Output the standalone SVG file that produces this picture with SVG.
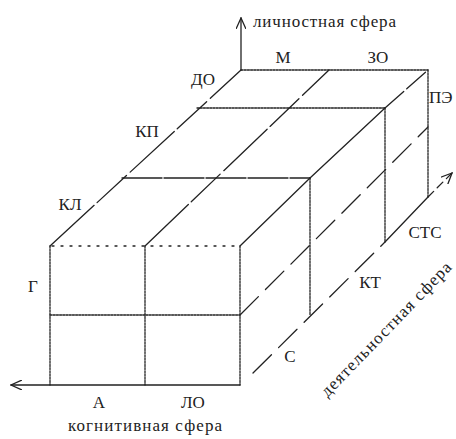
<svg xmlns="http://www.w3.org/2000/svg" width="456" height="439" viewBox="0 0 456 439">
<style>
.ln{fill:none;stroke:#222;stroke-width:1.3;stroke-linecap:round}
.dot{stroke-dasharray:2 1.2}
.sp{stroke-dasharray:2 7}
.dash{stroke-dasharray:26 10}
.gap{stroke-dasharray:60 4 40 5}
.m{text-anchor:middle}
</style>
<defs>
<marker id="ah" viewBox="0 0 12 10" refX="11" refY="5" markerWidth="12" markerHeight="10" markerUnits="userSpaceOnUse" orient="auto">
<path d="M0,0 L11,5 L0,10" fill="none" stroke="#222" stroke-width="1.3"/>
</marker>
</defs>
<rect width="456" height="439" fill="#fff"/>
<g id="connectors">
<line id="axis-personal" class="ln" x1="241" y1="70" x2="241" y2="18" marker-end="url(#ah)"/>
<line id="axis-cognitive" class="ln" x1="240" y1="385" x2="11" y2="385" marker-end="url(#ah)"/>
<line id="axis-activity-a" class="ln dash" x1="253" y1="373" x2="385" y2="242"/>
<line id="axis-activity-b" class="ln" x1="385" y1="242" x2="428" y2="197"/>
<line id="axis-activity-c" class="ln" stroke-dasharray="8 5" x1="428" y1="197" x2="452" y2="173" marker-end="url(#ah)"/>
<line class="ln dot" x1="50" y1="246" x2="50" y2="385"/>
<line class="ln dot" x1="145" y1="246" x2="145" y2="385"/>
<line class="ln dot" x1="240" y1="246" x2="240" y2="385"/>
<line class="ln sp" x1="52" y1="246" x2="240" y2="246"/>
<line class="ln dot" x1="50" y1="315" x2="240" y2="315"/>
<line class="ln dot" x1="241" y1="70" x2="428" y2="70"/>
<line class="ln dot" x1="197" y1="108" x2="385" y2="108"/>
<line class="ln" stroke-dasharray="40 2" x1="122" y1="178" x2="310" y2="178"/>
<line class="ln gap" x1="50" y1="246" x2="241" y2="70"/>
<line class="ln gap" x1="145" y1="246" x2="329" y2="70"/>
<line class="ln" x1="240" y1="246" x2="310" y2="178"/>
<line class="ln" x1="310" y1="178" x2="385" y2="108"/>
<line class="ln" stroke-dasharray="25 4" x1="385" y1="108" x2="428" y2="70"/>
<line class="ln dash" x1="240" y1="315" x2="428" y2="127"/>
<line class="ln dot" x1="310" y1="178" x2="310" y2="315"/>
<line class="ln dot" x1="385" y1="108" x2="385" y2="242"/>
<line class="ln dot" x1="428" y1="70" x2="428" y2="197"/>
</g>
<g id="labels" font-family="Liberation Serif, DejaVu Serif, serif" font-size="17" fill="#222">
<text x="253" y="27" textLength="143">личностная сфера</text>
<text class="m" x="283" y="63">М</text>
<text class="m" x="378" y="63">ЗО</text>
<text class="m" x="203" y="85">ДО</text>
<text x="429" y="103">ПЭ</text>
<text class="m" x="147" y="137">КП</text>
<text class="m" x="70" y="210">КЛ</text>
<text class="m" x="33" y="292">Г</text>
<text class="m" x="99" y="408">А</text>
<text class="m" x="193" y="408">ЛО</text>
<text x="68" y="431" textLength="154">когнитивная сфера</text>
<text class="m" x="425" y="238">СТС</text>
<text class="m" x="370" y="288">КТ</text>
<text class="m" x="290" y="362">С</text>
<text class="m" transform="translate(390,333) rotate(-46)" textLength="180">деятельностная сфера</text>
</g>
</svg>
